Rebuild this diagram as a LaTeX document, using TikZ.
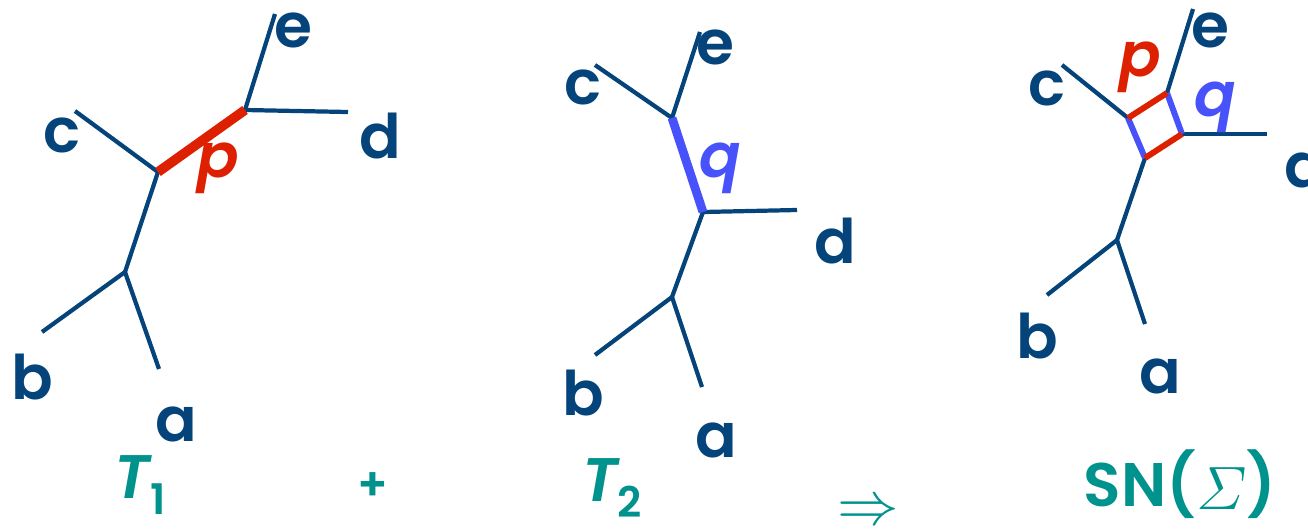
\documentclass[tikz,border=0pt]{standalone}
\usepackage{amsmath}
\usepackage{fontspec}
\setmainfont{Poppins}[BoldFont={Poppins SemiBold},BoldItalicFont={Poppins SemiBold Italic}]
\usepackage{xcolor}
\definecolor{blu}{RGB}{4,68,122}
\definecolor{rosso}{RGB}{220,32,0}
\definecolor{viola}{RGB}{72,82,250}
\definecolor{verde}{RGB}{0,146,140}
\tikzset{
  ramo/.style={line width=2.4pt,blu},
  lettera/.style={text=blu,font=\fontsize{35}{40}\selectfont\bfseries},
  titolo/.style={text=verde,font=\fontsize{35}{40}\selectfont\bfseries},
}

\begin{document}
\begin{tikzpicture}[x=0.02cm,y=-0.02cm]
        \useasboundingbox (0,0) rectangle (1308,531);
        \coordinate (a1) at (159,369);
        \coordinate (b1) at (42,332);
        \coordinate (w1) at (125,272);
        \coordinate (v1) at (158,172);
        \coordinate (c1) at (75,111);
        \coordinate (u1) at (245,110);
        \coordinate (d1) at (348,112);
        \coordinate (e1) at (275,14);
        \draw[ramo] (a1) -- (w1) -- (b1);
        \draw[ramo] (w1) -- (v1) -- (c1);
        \draw[ramo] (e1) -- (u1) -- (d1);
        \draw[ramo,rosso,line width=5.5pt] (v1) -- (u1);
        \node[lettera] (la1) at (176,424) {a};
        \node[lettera] (lb1) at (32,377) {b};
        \node[lettera] (lc1) at (62,135) {c};
        \node[lettera] (ld1) at (380,136) {d};
        \node[lettera] (le1) at (293,30) {e};
        \node[lettera,text=rosso] (lp1) at (218,168) {\itshape p};
        \node[titolo] (t1) at (140,485) {\itshape T\raisebox{-9pt}{\upshape\fontsize{24}{28}\selectfont 1}};
        \node[titolo,font=\fontsize{26}{30}\selectfont\bfseries] (piu) at (373,487) {+};
        \coordinate (a2) at (702,387);
        \coordinate (b2) at (595,355);
        \coordinate (w2) at (672,297);
        \coordinate (v2) at (703,212);
        \coordinate (d2) at (797,210);
        \coordinate (u2) at (672,118);
        \coordinate (c2) at (595,65);
        \coordinate (e2) at (700,32);
        \draw[ramo] (a2) -- (w2) -- (b2);
        \draw[ramo] (w2) -- (v2) -- (d2);
        \draw[ramo] (c2) -- (u2) -- (e2);
        \draw[ramo,viola,line width=5pt] (u2) -- (v2);
        \node[lettera] (la2) at (716,440) {a};
        \node[lettera] (lb2) at (583,393) {b};
        \node[lettera] (lc2) at (583,87) {c};
        \node[lettera] (ld2) at (835,241) {d};
        \node[lettera] (le2) at (715,47) {e};
        \node[lettera,text=viola] (lq2) at (720,168) {\itshape q};
        \node[titolo] (t2) at (612,488) {\itshape T\raisebox{-9pt}{\upshape\fontsize{24}{28}\selectfont 2}};
        \node[text=verde] (freccia) at (868,513) {\scalebox{3.5}{$\Rightarrow$}};
        \coordinate (a3) at (1145,324);
        \coordinate (b3) at (1047,295);
        \coordinate (w3) at (1117,240);
        \coordinate (s4) at (1145,158);
        \coordinate (s2) at (1128,118);
        \coordinate (s1) at (1167,93);
        \coordinate (s3) at (1182,134);
        \coordinate (c3) at (1062,65);
        \coordinate (e3) at (1193,9);
        \coordinate (d3) at (1267,134);
        \draw[ramo] (a3) -- (w3) -- (b3);
        \draw[ramo] (w3) -- (s4);
        \draw[ramo] (c3) -- (s2);
        \draw[ramo] (e3) -- (s1);
        \draw[ramo] (s3) -- (d3);
        \draw[ramo,viola,line width=3.4pt] (s2) -- (s4);
        \draw[ramo,viola,line width=3.4pt] (s1) -- (s3);
        \draw[ramo,rosso,line width=3.4pt] (s2) -- (s1);
        \draw[ramo,rosso,line width=3.4pt] (s4) -- (s3);
        \node[lettera] (la3) at (1160,376) {a};
        \node[lettera] (lb3) at (1037,336) {b};
        \node[lettera] (lc3) at (1047,88) {c};
        \node[lettera] (ld3) at (1305,165) {d};
        \node[lettera] (le3) at (1210,30) {e};
        \node[lettera,text=rosso] (lp3) at (1140,67) {\itshape p};
        \node[lettera,text=viola] (lq3) at (1215,107) {\itshape q};
        \node[titolo] (sn) at (1180,484) {SN(\raisebox{-2pt}{\scalebox{1.4}{$\varSigma$}})};
    \end{tikzpicture}
\end{document}
